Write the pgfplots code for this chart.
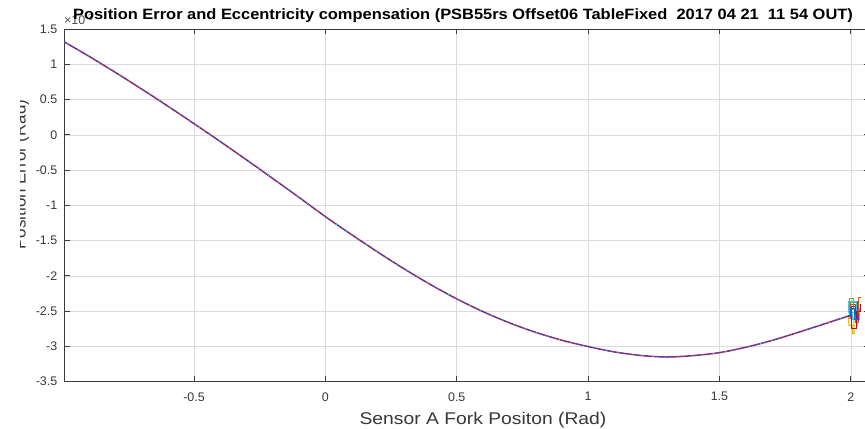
\documentclass[border=0pt]{standalone}
\usepackage{fontspec}
\setmainfont{Liberation Sans}
\usepackage{graphicx}
\usepackage{pgfplots}
\usepackage{pgfplotstable}
\pgfplotsset{compat=1.18}
\definecolor{mblue}{RGB}{0,114,189}
\definecolor{morange}{RGB}{217,83,25}
\definecolor{myellow}{RGB}{237,177,32}
\definecolor{mpurple}{RGB}{126,47,142}
\definecolor{mgreen}{RGB}{119,172,48}
\definecolor{mcyan}{RGB}{77,190,238}
\definecolor{mred}{RGB}{162,20,47}
\definecolor{axgray}{RGB}{38,38,38}
\pgfplotstableread{
x y
-0.995 1.32
-0.9 1.113
-0.8 0.886
-0.7 0.650
-0.6 0.407
-0.5 0.158
-0.4 -0.096
-0.3 -0.356
-0.2 -0.620
-0.1 -0.888
0.0 -1.160
0.1 -1.416
0.2 -1.664
0.3 -1.901
0.4 -2.123
0.5 -2.326
0.6 -2.507
0.7 -2.665
0.8 -2.800
0.9 -2.912
1.0 -3.002
1.1 -3.078
1.2 -3.128
1.3 -3.150
1.4 -3.130
1.5 -3.088
1.6 -3.012
1.7 -2.915
1.8 -2.800
1.9 -2.680
1.99 -2.570
}\maincurve
\begin{document}
\begin{tikzpicture}
\begin{axis}[
  at={(64bp,47.3bp)}, anchor=south west,
  scale only axis, width=805.2bp, height=352.7bp,
  xmin=-0.995, xmax=2.07, ymin=-3.5, ymax=1.5,
  xtick={-0.5,0,0.5,1,1.5,2},
  ytick={-3.5,-3,-2.5,-2,-1.5,-1,-0.5,0,0.5,1,1.5},
  xticklabels={-0.5,0,0.5,1,1.5,2},
  yticklabels={-3.5,-3,-2.5,-2,-1.5,-1,-0.5,0,0.5,1,1.5},
  grid=major, major grid style={black!14, line width=0.6bp},
  axis line style={axgray!90, line width=0.9bp},
  tick style={axgray!90, line width=0.9bp}, tick align=inside,
  major tick length=5.5bp,
  ticklabel style={font=\fontsize{12.5}{14}\selectfont, text=black!78},
  xticklabel style={anchor=north, inner sep=0pt, yshift=-10.5bp},
  yticklabel style={anchor=east, inner sep=0pt, xshift=-6.5bp},
  clip=true,
]
\addplot[mpurple, line width=1.5bp, smooth] table {\maincurve};
\addplot[mblue, line width=0.8bp, smooth, dash pattern=on 1.5bp off 6bp] table {\maincurve};
\addplot[mred, line width=0.8bp, smooth, dash pattern=on 1.2bp off 7bp, dash phase=3bp] table {\maincurve};
\addplot[morange, line width=0.8bp, smooth, dash pattern=on 1bp off 9bp, dash phase=5bp] table {\maincurve};
\addplot[mcyan, line width=0.7bp, smooth, dash pattern=on 1bp off 11bp, dash phase=8bp] table {\maincurve};
% cluster of overlapping runs at the end
\addplot[mgreen, line width=1.0bp] coordinates {(1.995,-2.55) (1.995,-2.32) (2.012,-2.32) (2.012,-2.48) (2.0,-2.48) (2.0,-2.38) (2.02,-2.38)};
\addplot[myellow, line width=1.1bp] coordinates {(1.99,-2.57) (1.993,-2.70) (2.006,-2.70) (2.006,-2.82) (2.012,-2.82) (2.012,-2.58) (2.025,-2.58) (2.025,-2.72)};
\addplot[mcyan, line width=1.0bp] coordinates {(1.993,-2.52) (1.993,-2.36) (2.02,-2.36) (2.02,-2.52) (2.008,-2.52) (2.008,-2.62) (2.032,-2.62) (2.032,-2.45)};
\addplot[morange, line width=1.0bp] coordinates {(1.992,-2.60) (1.998,-2.60) (1.998,-2.40) (2.018,-2.40) (2.018,-2.66) (2.03,-2.66) (2.03,-2.30) (2.04,-2.30)};
\addplot[mred, line width=1.0bp] coordinates {(1.995,-2.58) (2.003,-2.58) (2.003,-2.74) (2.022,-2.74) (2.022,-2.50) (2.035,-2.50) (2.035,-2.40)};
\addplot[mblue, line width=1.0bp] coordinates {(1.99,-2.56) (2.0,-2.56) (2.0,-2.46) (2.015,-2.46) (2.015,-2.62) (2.027,-2.62) (2.027,-2.35)};
\addplot[mpurple, line width=1.0bp] coordinates {(1.985,-2.58) (2.004,-2.58) (2.004,-2.44) (2.017,-2.44) (2.017,-2.55) (2.03,-2.55) (2.03,-2.64)};
\end{axis}
% y label (partly cut off on its left, as in the reference)
\node[rotate=90, anchor=base, inner sep=0pt, font=\fontsize{17}{19}\selectfont, text=black!78] at (25.5bp,254.5bp) {Position Error (Rad)};
\fill[white] (-5bp,0bp) rectangle (19.5bp,429bp);
% x label
\node[anchor=base, inner sep=0pt, font=\fontsize{17}{19}\selectfont, text=black!78] at (483bp,5bp) {\scalebox{1.14}[1]{Sensor A Fork Positon (Rad)}};
% exponent
\node[anchor=base west, inner sep=0pt, font=\fontsize{12.5}{14}\selectfont, text=black!70] at (64bp,404bp) {\texttimes10\textsuperscript{-3}};
% title
\node[anchor=base, inner sep=0pt, font=\bfseries\fontsize{15}{17}\selectfont] at (463bp,409bp) {\scalebox{1.1}[1]{Position Error and Eccentricity compensation (PSB55rs Offset06 TableFixed\ \ 2017 04 21\ \ 11 54 OUT)}};
\pgfresetboundingbox
\path[use as bounding box] (0bp,0bp) rectangle (865bp,429bp);
\end{tikzpicture}
\end{document}
